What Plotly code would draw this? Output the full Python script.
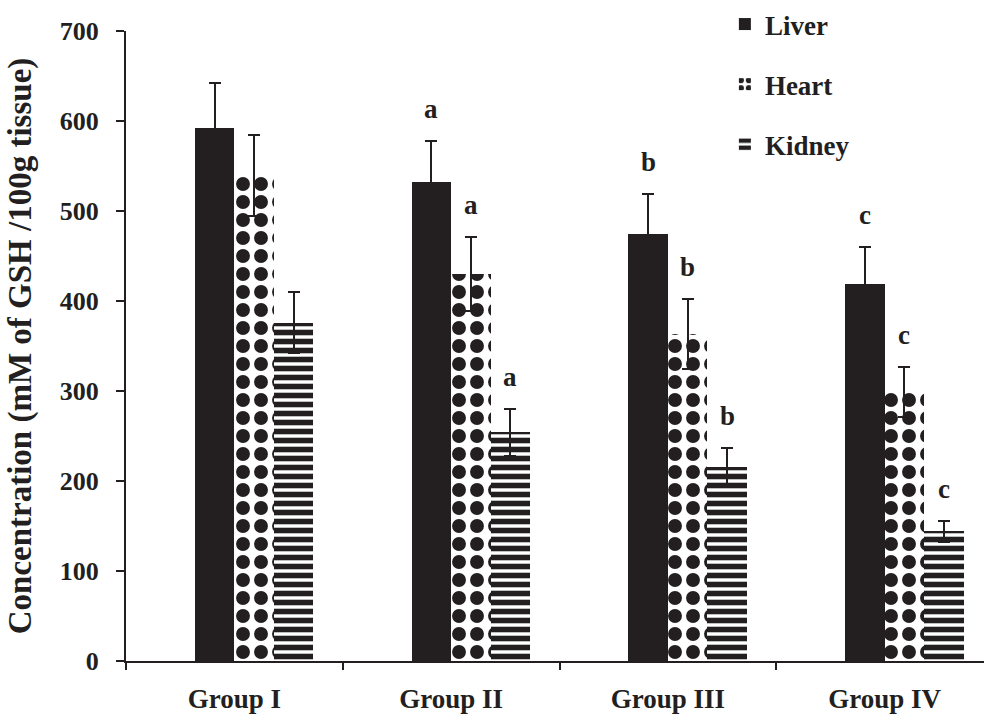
import plotly.graph_objects as go

groups = ["Group I", "Group II", "Group III", "Group IV"]
liver = [592, 532, 475, 419]
liver_err = [50, 46, 44, 41]
heart = [540, 430, 363, 299]
heart_err = [45, 41, 39, 28]
kidney = [376, 254, 216, 144]
kidney_err = [34, 26, 21, 12]
liver_sig = ["", "a", "b", "c"]
heart_sig = ["", "a", "b", "c"]
kidney_sig = ["", "a", "b", "c"]

INK = "#231f20"
FONT = "Liberation Serif"
BW = 0.182  # bar width in category units
offsets = {"Liver": -BW, "Heart": 0.0, "Kidney": BW}

def f(size):
    return dict(family=FONT, size=size, color=INK, weight="bold")

fig = go.Figure()

def add_bar(name, vals, errs, pattern):
    fig.add_trace(go.Bar(
        x=groups, y=vals, name=name, legendgroup=name,
        width=BW, offset=offsets[name],
        marker=dict(color=INK, line=dict(width=0), pattern=pattern),
        error_y=dict(type="data", array=errs, visible=True,
                     color=INK, thickness=2, width=6),
    ))

add_bar("Liver", liver, liver_err, dict(shape=""))
add_bar("Heart", heart, heart_err,
        dict(shape=".", fgcolor=INK, bgcolor="white", size=18, solidity=0.47, fillmode="replace"))
add_bar("Kidney", kidney, kidney_err,
        dict(shape="-", fgcolor=INK, bgcolor="white", size=9, solidity=0.62, fillmode="replace"))

annotations = []
for name, vals, errs, sig in [("Liver", liver, liver_err, liver_sig),
                              ("Heart", heart, heart_err, heart_sig),
                              ("Kidney", kidney, kidney_err, kidney_sig)]:
    for i, (v, e, s) in enumerate(zip(vals, errs, sig)):
        if not s:
            continue
        annotations.append(dict(
            x=i + offsets[name] + BW / 2, y=v + e, xref="x", yref="y",
            text=s, showarrow=False, yanchor="middle", yshift=32,
            font=f(27),
        ))

fig.update_layout(
    width=984, height=716,
    margin=dict(l=126, r=0, t=31, b=55),
    paper_bgcolor="white", plot_bgcolor="white",
    barmode="overlay",
    bargap=0,
    font=f(20),
    annotations=annotations,
    showlegend=True,
    legend=dict(
        x=0.698, y=1.05, xanchor="left", yanchor="top",
        traceorder="grouped", tracegroupgap=22,
        font=f(27), itemwidth=30,
        bgcolor="rgba(0,0,0,0)", borderwidth=0,
    ),
    xaxis=dict(
        type="category", range=[-0.5, 3.458],
        showline=True, linecolor=INK, linewidth=2,
        ticks="outside", tickson="boundaries", ticklen=7, tickwidth=2, tickcolor=INK,
        tickfont=f(27),
        ticklabelstandoff=13,
        showgrid=False, zeroline=False,
    ),
    yaxis=dict(
        range=[0, 700], dtick=100, tick0=0,
        showline=True, linecolor=INK, linewidth=2,
        ticks="outside", ticklen=8, tickwidth=2, tickcolor=INK,
        tickfont=f(26),
        ticklabelstandoff=12,
        showgrid=False, zeroline=False,
        title=dict(text="Concentration (mM of GSH /100g tissue)",
                   font=f(33), standoff=18),
    ),
)

fig.write_html("out.html")
